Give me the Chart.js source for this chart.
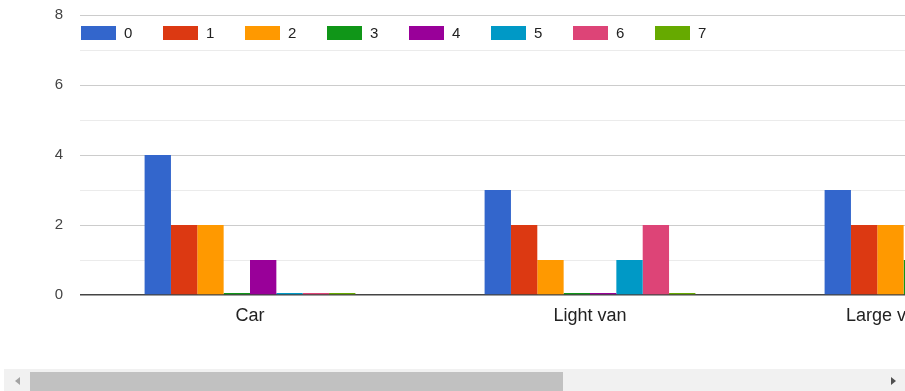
<!DOCTYPE html>
<html>
<head>
<meta charset="utf-8">
<script src="https://cdn.jsdelivr.net/npm/chart.js@4.4.1/dist/chart.umd.min.js"></script>
<style>
  html, body { margin: 0; padding: 0; background: #fff; overflow: hidden; width: 905px; height: 391px; }
  #wrap { position: absolute; left: 0; top: -11px; width: 1120px; height: 380px; }
  #track { position: absolute; left: 4px; top: 369px; width: 901px; height: 22px; background: #f1f1f1; }
  #thumb { position: absolute; left: 30px; top: 372px; width: 533px; height: 19px; background: #c1c1c1; }
  #larr { position: absolute; left: 15px; top: 377px; width: 0; height: 0;
          border-top: 4px solid transparent; border-bottom: 4px solid transparent; border-right: 5px solid #a3a3a3; }
  #rarr { position: absolute; left: 891px; top: 377px; width: 0; height: 0;
          border-top: 4px solid transparent; border-bottom: 4px solid transparent; border-left: 5px solid #505050; }
</style>
</head>
<body>
<div id="wrap"><canvas id="c"></canvas></div>
<div id="track"></div>
<div id="thumb"></div>
<div id="larr"></div>
<div id="rarr"></div>
<script>
const categories = ["Car", "Light van", "Large van or minibus"];
const seriesLabels = ["0", "1", "2", "3", "4", "5", "6", "7"];
const seriesColors = ["#3366cc", "#dc3912", "#ff9900", "#109618", "#990099", "#0099c6", "#dd4477", "#66aa00"];
const series0 = [4, 3, 3];
const series1 = [2, 2, 2];
const series2 = [2, 1, 2];
const series3 = [0, 0, 1];
const series4 = [1, 0, 0];
const series5 = [0, 1, 0];
const series6 = [0, 2, 0];
const series7 = [0, 0, 0];
const yTickLabels = [0, 2, 4, 6, 8];

const allSeries = [series0, series1, series2, series3, series4, series5, series6, series7];
const FONT = '"Liberation Sans", Arial, sans-serif';

const legendPlugin = {
  id: 'insideLegend',
  afterDraw(chart) {
    const ctx = chart.ctx;
    const left = chart.chartArea.left;
    const top = chart.scales.y.getPixelForValue(8);
    ctx.save();
    ctx.font = '15px ' + FONT;
    ctx.textBaseline = 'middle';
    ctx.textAlign = 'left';
    chart.data.datasets.forEach((ds, i) => {
      const x = left + 1 + i * 82;
      ctx.fillStyle = ds.backgroundColor;
      ctx.fillRect(x, top + 11, 35, 14);
      ctx.fillStyle = '#222222';
      ctx.fillText(ds.label, x + 43, top + 19);
    });
    ctx.restore();
  }
};

new Chart(document.getElementById('c'), {
  type: 'bar',
  data: {
    labels: categories,
    datasets: allSeries.map((vals, i) => ({
      label: seriesLabels[i],
      data: vals,
      backgroundColor: seriesColors[i],
      borderWidth: 0,
      minBarLength: 2,
      categoryPercentage: 0.62,
      barPercentage: 1.0
    }))
  },
  options: {
    responsive: true,
    maintainAspectRatio: false,
    animation: false,
    layout: { padding: { top: 5, right: 20, left: 0, bottom: 0 } },
    plugins: { legend: { display: false }, tooltip: { enabled: false } },
    scales: {
      x: {
        grid: { display: false, drawTicks: false },
        border: { display: false },
        ticks: { color: '#222222', font: { size: 18, family: FONT }, padding: 10, maxRotation: 0, autoSkip: false },
        afterFit(scale) { scale.height = 74; }
      },
      y: {
        min: 0,
        max: 8,
        grid: {
          drawTicks: false,
          color(ctx) {
            const v = ctx.tick.value;
            if (v === 0) return '#444444';
            return yTickLabels.includes(v) ? '#cccccc' : '#ebebeb';
          },
          lineWidth(ctx) { return ctx.tick.value === 0 ? 1.5 : 1; }
        },
        border: { display: false },
        ticks: {
          stepSize: 1,
          padding: 17,
          color: '#444444',
          font: { size: 15, family: FONT },
          callback(v) { return yTickLabels.includes(v) ? String(v) : ''; }
        },
        afterFit(scale) { scale.width = 80; }
      }
    }
  },
  plugins: [legendPlugin]
});
</script>
</body>
</html>
